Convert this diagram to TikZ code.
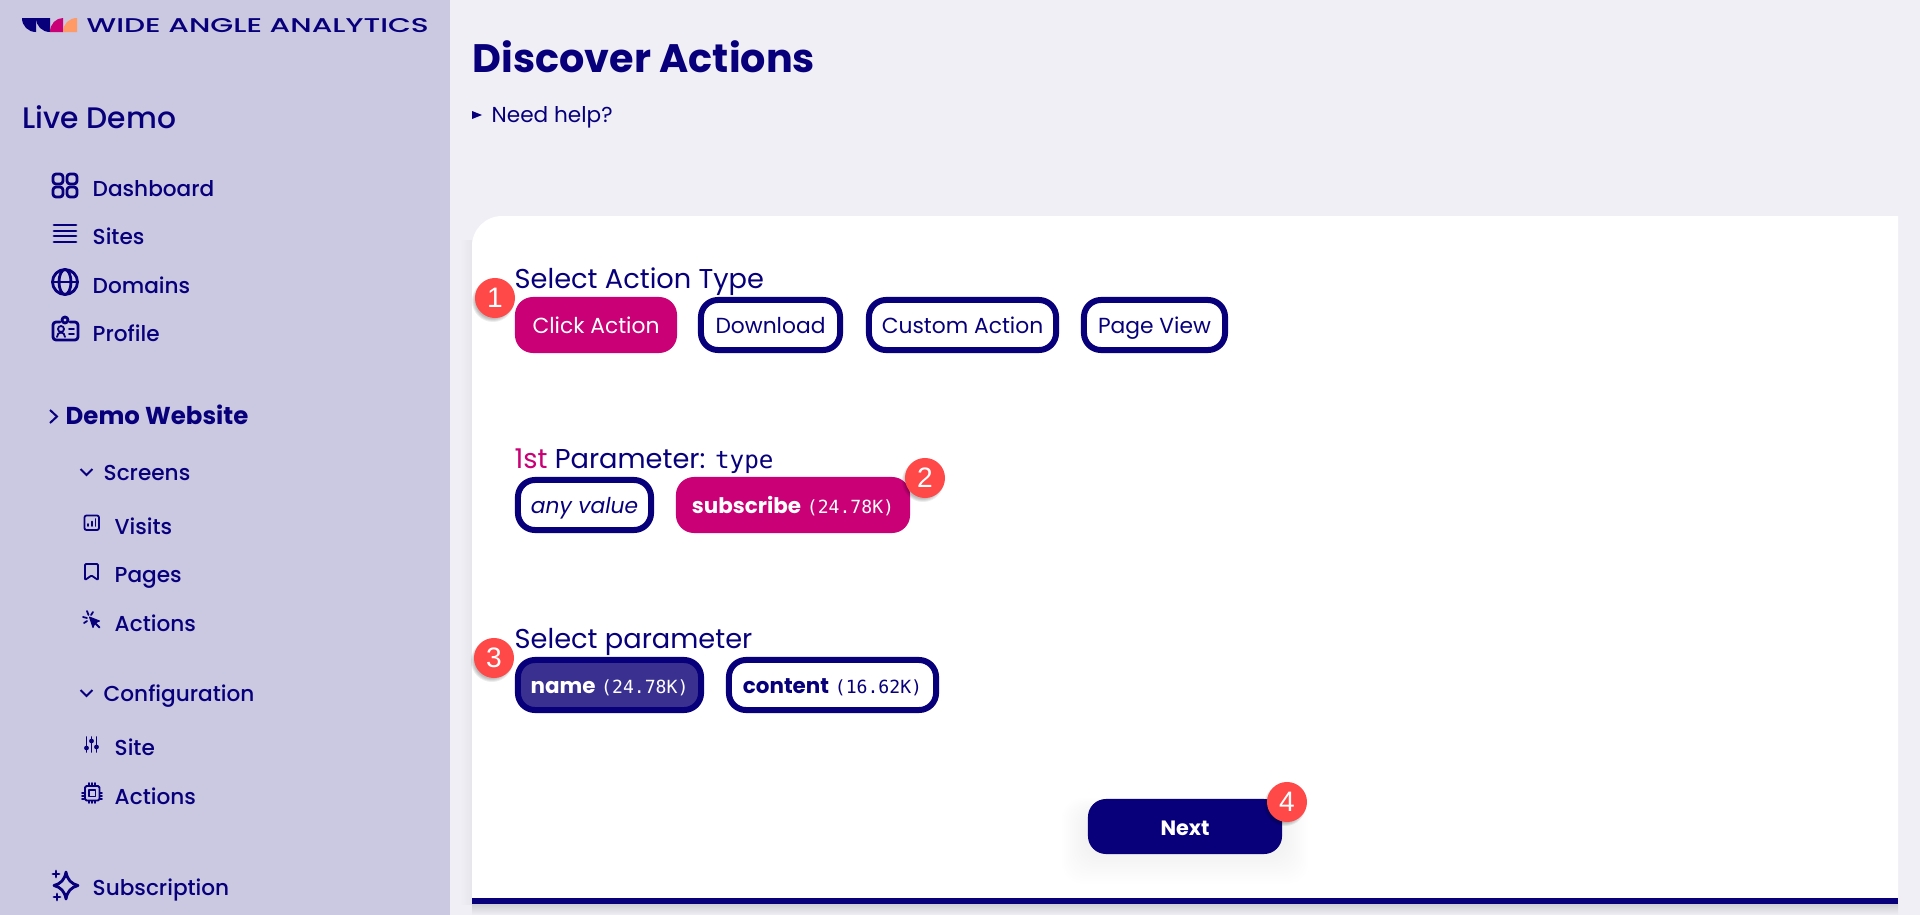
\documentclass[tikz,border=0pt]{standalone}
\usepackage{fontspec}
\setmainfont{Poppins}
\setmonofont{DejaVu Sans Mono}
\newfontfamily\medfont{Poppins Medium}
\newfontfamily\markfont{Liberation Sans}
\definecolor{navy}{HTML}{08007A}
\definecolor{pinkish}{HTML}{C90076}
\definecolor{peach}{HTML}{FF9966}
\definecolor{sidebar}{HTML}{CBC8E2}
\definecolor{pagebg}{HTML}{F0EFF6}
\definecolor{nameblue}{HTML}{3A3090}
\definecolor{badgered}{HTML}{FF4848}
\tikzset{
  label/.style={anchor=base west,inner sep=0pt,text=navy},
  menu/.style={label,font=\medfont\fontsize{6.15}{7}\selectfont},
  head/.style={label,font=\fontsize{7.75}{9}\selectfont},
  chip/.style={shape=rectangle,rounded corners=.17cm,line width=.06cm,draw=navy,fill=white,text=navy,
    inner sep=0pt,minimum height=.5cm,text height=.2cm,text depth=.03cm,font=\fontsize{6.2}{7}\selectfont},
  pinkchip/.style={chip,draw=none,fill=pinkish,text=white,minimum height=.56cm,rounded corners=.18cm},
  badge/.style={shape=circle,fill=badgered,text=white,inner sep=0pt,minimum size=.4cm,font=\markfont\fontsize{8}{9}\selectfont},
  icon/.style={draw=navy,line width=.028cm,line cap=round,line join=round},
  thinicon/.style={icon,line width=.018cm}
}
\newcommand{\cnt}[1]{{\ttfamily\fontsize{5.15}{7}\selectfont #1}}
\begin{document}
\begin{tikzpicture}[x=.01cm,y=-.01cm]
  \useasboundingbox (0,0) rectangle (1920,915);
  \fill[pagebg] (0,0) rectangle (1920,915);
  \fill[sidebar] (0,0) rectangle (450,915);
  % card and its shadow
  \shade[top color=black!14!pagebg,bottom color=pagebg] (472,904) rectangle (1898,915);
  \shade[left color=pagebg,right color=black!4!pagebg] (460,240) rectangle (472,904);
  \fill[white] (472,898) [rounded corners=.3cm] -- (472,216) [sharp corners] -- (1898,216) -- (1898,898) -- cycle;
  \fill[navy] (472,898) rectangle (1898,904);
  % logo
  \fill[navy] (22,18) .. controls (22,26) and (28,32) .. (36,32) -- (36,18) -- cycle;
  \fill[navy] (36,18) .. controls (36,26) and (42,32) .. (50,32) -- (50,18) -- cycle;
  \fill[pinkish] (50,32) .. controls (50,24) and (56,18) .. (63,18) -- (63,32) -- cycle;
  \fill[peach] (63,32) .. controls (63,24) and (69,18) .. (77,18) -- (77,32) -- cycle;
  \node[label] (logotext) at (86,32) {\resizebox{3.42cm}{.14cm}{\medfont WIDE ANGLE ANALYTICS}};
  % sidebar
  \node[label,font=\medfont\fontsize{8.45}{10}\selectfont] (live) at (22,128) {Live Demo};
  \node[menu] (dash) at (92,196) {Dashboard};
  \node[menu] (sites) at (92,244) {Sites};
  \node[menu] (domains) at (92,293) {Domains};
  \node[menu] (profile) at (92,341) {Profile};
  \node[label,font=\bfseries\fontsize{6.95}{8}\selectfont] (demo) at (65,424) {Demo Website};
  \node[menu] (screens) at (103,480) {Screens};
  \node[menu] (visits) at (114,534) {Visits};
  \node[menu] (pages) at (114,582) {Pages};
  \node[menu] (actions) at (114,631) {Actions};
  \node[menu] (config) at (103,701) {Configuration};
  \node[menu] (site) at (114,755) {Site};
  \node[menu] (chipactions) at (114,804) {Actions};
  \node[menu] (subscr) at (92,895) {Subscription};
  % sidebar icons
  \foreach \ix/\iy in {53/174,67/174,53/187,67/187}
    \draw[icon,rounded corners=.03cm] (\ix,\iy) rectangle ++(10,10);
  \foreach \iy in {225,231,236,242}
    \draw[icon] (54,\iy) -- (76,\iy);
  \draw[icon] (65,282) circle [radius=12.5];
  \draw[icon] (65,282) ellipse [x radius=6,y radius=12.5];
  \draw[icon] (53,282) -- (77,282);
  \draw[icon,rounded corners=.03cm] (60,322) -- (53,322) -- (53,340) -- (78,340) -- (78,322) -- (70,322);
  \draw[icon] (65,320) circle [radius=3];
  \draw[thinicon] (61,329) circle [radius=3];
  \draw[thinicon] (57,337) .. controls (57,331) and (65,331) .. (65,337);
  \draw[thinicon] (69,329) -- (74,329) (69,334) -- (74,334);
  \draw[navy,line width=.02cm] (50,410) -- (57,416.5) -- (50,423);
  \draw[navy,line width=.02cm] (80.5,469) -- (86.5,475) -- (92.5,469);
  \draw[navy,line width=.02cm] (80.5,690) -- (86.5,696) -- (92.5,690);
  \draw[thinicon,rounded corners=.02cm] (84.5,515.5) rectangle (99,530);
  \draw[thinicon] (88,526) -- (88,524) (92,526) -- (92,521.5) (95.5,526) -- (95.5,519);
  \draw[thinicon,rounded corners=.01cm] (85,580) -- (85,564) -- (98,564) -- (98,580) -- (91.5,575.5) -- cycle;
  \fill[navy,draw=navy,line join=round,line width=.01cm] (89.5,617) -- (99.5,621) -- (95,623) -- (93,627.5) -- cycle;
  \draw[thinicon] (95,623) -- (99.5,627.5);
  \draw[thinicon] (87,611) -- (88.5,615) (83,617) -- (87,618) (93,612) -- (91,615) (84,623) -- (87,621);
  \draw[thinicon] (86.5,737) -- (86.5,752) (91.5,737) -- (91.5,752) (96.5,737) -- (96.5,752);
  \fill[navy] (86.5,748) circle [radius=2.4] (91.5,741) circle [radius=2.4] (96.5,747) circle [radius=2.4];
  \draw[thinicon,rounded corners=.015cm] (85,786) rectangle (99.5,800.5);
  \draw[thinicon] (89,790) rectangle (95.5,796.5);
  \foreach \t in {89,92,95} {
    \draw[thinicon] (\t,785) -- (\t,783) (\t,801) -- (\t,803) (84,\t+704) -- (82,\t+704) (100,\t+704) -- (102,\t+704);
  }
  \draw[icon] (66,872) .. controls (67.5,880) and (71,883.5) .. (78,885.5) .. controls (71,887.5) and (67.5,891) .. (66,899)
    .. controls (64.5,891) and (61,887.5) .. (54,885.5) .. controls (61,883.5) and (64.5,880) .. (66,872) -- cycle;
  \draw[icon] (53,874) -- (59,874) (56,871) -- (56,877);
  \draw[icon] (54,897) -- (60,897) (57,894) -- (57,900);
  % page head
  \node[label,font=\bfseries\fontsize{11.3}{13}\selectfont] (title) at (472,72) {Discover Actions};
  \fill[navy] (472,111) -- (482,115) -- (472,119) -- cycle;
  \node[label,font=\fontsize{6.15}{8}\selectfont] (help) at (491,122) {Need help?};
  % first block
  \node[head] (acttype) at (514,288) {Select Action Type};
  \node[pinkchip,minimum width=1.62cm] (clickact) at (596,325) {Click Action};
  \node[chip,minimum width=1.39cm] (download) at (770.5,325) {Download};
  \node[chip,minimum width=1.87cm] (customact) at (962.5,325) {Custom Action};
  \node[chip,minimum width=1.41cm] (pageview) at (1154.5,325) {Page View};
  % second block
  \node[head] (firstparam) at (514,468) {\textcolor{pinkish}{1st} Parameter: {\ttfamily\fontsize{6.9}{8}\selectfont type}};
  \node[chip,minimum width=1.33cm,font=\itshape\fontsize{6.2}{7}\selectfont] (anyvalue) at (584.5,505) {any value};
  \node[pinkchip,minimum width=2.34cm,font=\fontsize{6.1}{7}\selectfont] (subscribe) at (793,505) {\textbf{subscribe} \cnt{(24.78K)}};
  % third block
  \node[head] (selparam) at (514,648) {Select parameter};
  \node[chip,fill=nameblue,text=white,minimum width=1.83cm,font=\fontsize{6.1}{7}\selectfont] (namechip) at (609.5,685) {\textbf{name} \cnt{(24.78K)}};
  \node[chip,minimum width=2.07cm,font=\fontsize{6.1}{7}\selectfont] (contentchip) at (832.5,685) {\textbf{content} \cnt{(16.62K)}};
  % next button
  \foreach \i in {1,...,14}
    \fill[black,opacity=.005,rounded corners=.2cm] (1090-2*\i,815-1.2*\i) rectangle (1280+2*\i,850+2.4*\i);
  \node[pinkchip,fill=navy,minimum width=1.94cm,minimum height=.55cm,font=\bfseries\fontsize{5.9}{7}\selectfont] (next) at (1185,826.5) {Next};
  % numbered marks
  \foreach \bx/\by/\bn in {495/298/1,925/478/2,494/658/3,1287/802/4} {
    \foreach \i in {1,...,4}
      \fill[black,opacity=.07] (\bx-2,\by+3) circle [radius=17+\i];
    \node[badge] (mark\bn) at (\bx,\by) {\bn};
  }
\end{tikzpicture}
\end{document}
